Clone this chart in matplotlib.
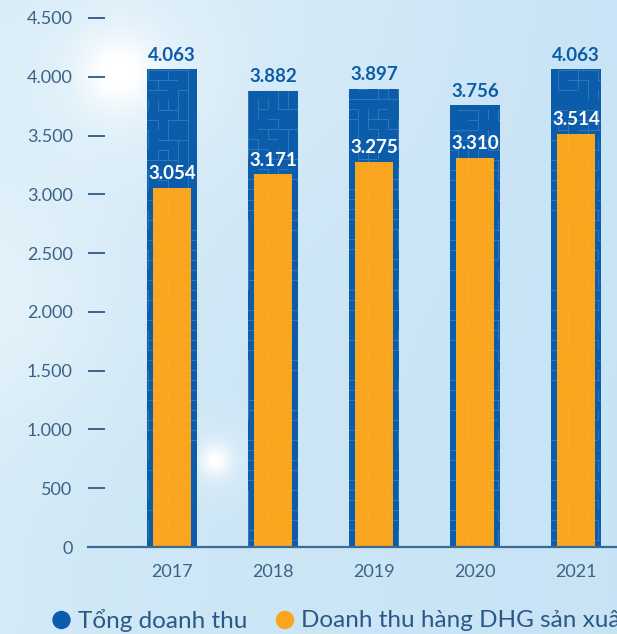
import numpy as np
import matplotlib
matplotlib.use("Agg")
import matplotlib.pyplot as plt
from matplotlib.patches import Circle

# Revenue data (billion VND)
years = ["2017", "2018", "2019", "2020", "2021"]
total_revenue = [4063, 3882, 3897, 3756, 4063]
dhg_revenue = [3054, 3171, 3275, 3310, 3514]
y_ticks = [0, 500, 1000, 1500, 2000, 2500, 3000, 3500, 4000, 4500]
legend_labels = ["Tổng doanh thu", "Doanh thu hàng DHG sản xuất"]

BLUE = "#0b5dab"
ORANGE = "#f9a51e"
TEXT = "#3c6287"
AXIS = "#3b6a96"
FONT = ["Lato", "DejaVu Sans"]

W, H = 617, 634
DPI = 100


def fmt(v):
    return f"{v:,}".replace(",", ".")


def background(w, h):
    yy, xx = np.mgrid[0:h, 0:w].astype(float)
    light = np.array([0.88, 0.95, 0.98])
    mid = np.array([0.78, 0.89, 0.96])
    t = np.clip(xx / w, 0, 1) ** 0.6
    img = light[None, None, :] * (1 - t[..., None]) + mid[None, None, :] * t[..., None]
    img = img * 0.55 + mid[None, None, :] * 0.45

    def glow(cx, cy, r, s):
        return s * np.exp(-((xx - cx) ** 2 + (yy - cy) ** 2) / (2 * r ** 2))

    g = (glow(118, 72, 26, 0.7) + glow(118, 72, 80, 0.35) +
         glow(215, 460, 10, 0.75) + glow(215, 460, 24, 0.3) +
         glow(0, 300, 90, 0.35) + glow(300, 0, 160, 0.15))
    g = np.clip(g, 0, 1)[..., None]
    img = img * (1 - g) + g
    return np.clip(img, 0, 1)


def maze_overlay(w, h, cell=10, alpha=0.16):
    mask = np.zeros((h, w))
    rows, cols = h // cell + 1, w // cell + 1
    for r in range(rows):
        for c in range(cols):
            k = (r * 7 + c * 13 + (r * c) % 11) % 6
            y0, x0 = r * cell, c * cell
            if k in (0, 1, 4):
                mask[y0:y0 + 1, x0:x0 + cell] = 1
            if k in (2, 3, 4):
                mask[y0:y0 + cell, x0:x0 + 1] = 1
    rgba = np.ones((h, w, 4))
    rgba[..., 3] = mask * alpha
    return rgba


fig = plt.figure(figsize=(W / DPI, H / DPI), dpi=DPI)

# Full-figure background layer in pixel coordinates
bg = fig.add_axes([0, 0, 1, 1], zorder=0)
bg.imshow(background(W, H), extent=(0, W, H, 0), aspect="auto", interpolation="bilinear")
bg.set_xlim(0, W)
bg.set_ylim(H, 0)
bg.axis("off")

# Main chart axes
ax_left, ax_bottom_px = 88, 547
ax = fig.add_axes([ax_left / W, (H - ax_bottom_px) / H, (W - ax_left) / W, ax_bottom_px / H], zorder=1)
ax.patch.set_alpha(0)

px_per_cat = 101.0
x0_px = 172.0
xlim = ((ax_left - x0_px) / px_per_cat, (W - x0_px) / px_per_cat)
ylim = (0, 4500 + 18 / (529 / 4500))

x = np.arange(len(years))
blue_bars = ax.bar(x, total_revenue, width=50 / px_per_cat, color=BLUE, zorder=2)
orange_bars = ax.bar(x, dhg_revenue, width=38 / px_per_cat, color=ORANGE, zorder=3)

# Maze texture clipped to every bar
ax_w_px, ax_h_px = W - ax_left, ax_bottom_px
tex_blue = maze_overlay(ax_w_px, ax_h_px, alpha=0.15)
tex_orange = maze_overlay(ax_w_px, ax_h_px, alpha=0.07)
for bars, tex, z in ((blue_bars, tex_blue, 2.5), (orange_bars, tex_orange, 3.5)):
    for b in bars:
        im = ax.imshow(tex, extent=(xlim[0], xlim[1], ylim[0], ylim[1]), aspect="auto",
                       interpolation="nearest", zorder=z)
        im.set_clip_path(b)

ax.set_xlim(*xlim)
ax.set_ylim(*ylim)

for xi, v in zip(x, total_revenue):
    ax.annotate(fmt(v), (xi, v), xytext=(0, 4), textcoords="offset points",
                ha="center", va="bottom", color=BLUE, fontsize=13.5,
                fontweight="bold", family=FONT, zorder=5)
for xi, v in zip(x, dhg_revenue):
    ax.annotate(fmt(v), (xi, v), xytext=(0, 4), textcoords="offset points",
                ha="center", va="bottom", color="white", fontsize=13.5,
                fontweight="bold", family=FONT, zorder=5)

ax.set_yticks(y_ticks)
ax.set_yticklabels([fmt(v) for v in y_ticks], family=FONT, fontsize=13, color=TEXT)
ax.set_xticks(x)
ax.set_xticklabels(years, family=FONT, fontsize=13, color=TEXT)
ax.tick_params(axis="y", direction="in", length=12, width=1.3, color="#2e5a85", pad=11)
ax.tick_params(axis="x", length=0, pad=12)

for side in ("left", "right", "top"):
    ax.spines[side].set_visible(False)
ax.spines["bottom"].set_color(AXIS)
ax.spines["bottom"].set_linewidth(1.6)
ax.spines["bottom"].set_zorder(4)

# Legend row
legend_y = 620
bg.add_patch(Circle((61.5, legend_y), 8.5, color=BLUE))
bg.text(78, legend_y, legend_labels[0], va="center", ha="left", fontsize=17.5,
        color="#2c5886", family=FONT)
bg.add_patch(Circle((285, legend_y), 8.5, color=ORANGE))
bg.text(301, legend_y, legend_labels[1], va="center", ha="left", fontsize=17.5,
        color="#2c5886", family=FONT)

fig.savefig("out.png", dpi=DPI)
